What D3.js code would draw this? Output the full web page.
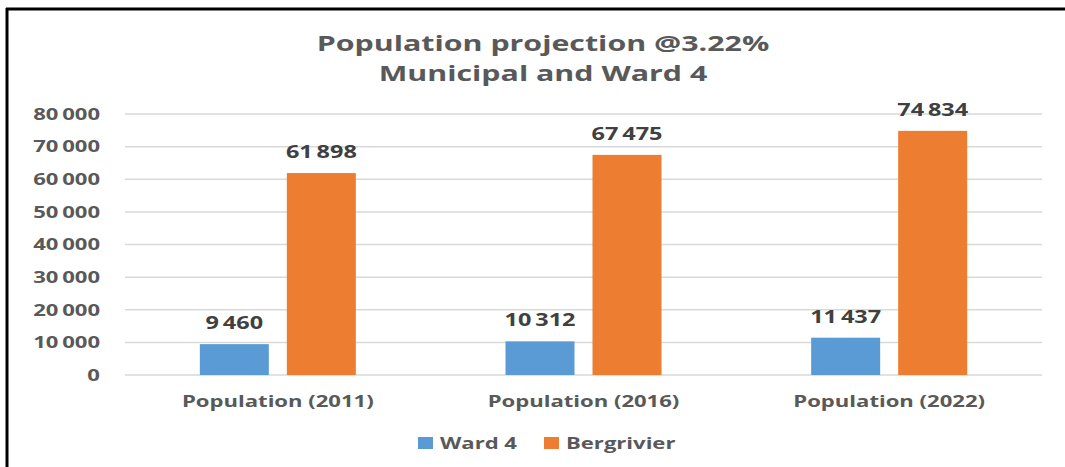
<!DOCTYPE html>
<html>
<head>
<meta charset="utf-8">
<script src="https://cdn.jsdelivr.net/npm/d3@7"></script>
<style>
  body { margin: 0; background: #fff; }
  svg { display: block; font-family: "Open Sans", sans-serif; font-weight: bold; }
</style>
</head>
<body>
<script>
var categories = ["Population (2011)", "Population (2016)", "Population (2022)"];
var seriesNames = ["Ward 4", "Bergrivier"];
var ward4 = [9460, 10312, 11437];
var bergrivier = [61898, 67475, 74834];
var yTicks = [0, 10000, 20000, 30000, 40000, 50000, 60000, 70000, 80000];
var colors = ["#5b9bd5", "#ed7d31"];

// text in the picture is stretched sideways
var SX = 1.38;
var place = function(x, y) {
  return "translate(" + x + "," + y + ") scale(" + SX + ",1)";
}

var main = function() {
  var width = 1065, height = 467;
  var margin = {top: 114, bottom: 92, left: 125, right: 23};

  var svg = d3.select("body").append("svg")
    .attr("width", width)
    .attr("height", height);

  // frame (only top + left show)
  svg.append("line").attr("x1", 6).attr("x2", width).attr("y1", 9).attr("y2", 9)
    .attr("stroke", "#000").attr("stroke-width", 3);
  svg.append("line").attr("x1", 7).attr("x2", 7).attr("y1", 8).attr("y2", height)
    .attr("stroke", "#000").attr("stroke-width", 3);

  var loc = d3.formatLocale({decimal: ".", thousands: "\u2009", grouping: [3], currency: ["", ""]});
  var fmt = loc.format(",d");

  var x = d3.scaleBand().domain(categories)
    .range([margin.left, width - margin.right]);
  var x1 = d3.scaleBand().domain(seriesNames)
    .range([0, x.bandwidth()]).paddingInner(0.207).paddingOuter(0.86);
  var y = d3.scaleLinear().domain([0, 80000])
    .range([height - margin.bottom, margin.top]);

  // gridlines
  svg.append("g").selectAll("line").data(yTicks).enter().append("line")
    .attr("x1", margin.left).attr("x2", width - margin.right)
    .attr("y1", d => y(d)).attr("y2", d => y(d))
    .attr("stroke", "#d9d9d9").attr("stroke-width", 1.5);

  // y tick labels
  svg.append("g").selectAll("text").data(yTicks).enter().append("text")
    .attr("transform", d => place(100, y(d))).attr("dy", "0.36em")
    .attr("text-anchor", "end").attr("fill", "#595959").attr("font-size", 16)
    .text(d => fmt(d));

  var rows = [];
  categories.forEach(function(c, i) {
    rows.push({cat: c, s: seriesNames[0], v: ward4[i], k: 0});
    rows.push({cat: c, s: seriesNames[1], v: bergrivier[i], k: 1});
  });

  svg.append("g").selectAll("rect").data(rows).enter().append("rect")
    .attr("x", d => x(d.cat) + x1(d.s))
    .attr("width", x1.bandwidth())
    .attr("y", d => y(d.v))
    .attr("height", d => y(0) - y(d.v))
    .attr("fill", d => colors[d.k]);

  svg.append("g").selectAll("text").data(rows).enter().append("text")
    .attr("transform", d => place(x(d.cat) + x1(d.s) + x1.bandwidth() / 2, y(d.v) - 15))
    .attr("text-anchor", "middle").attr("fill", "#404040").attr("font-size", 17)
    .text(d => fmt(d.v));

  // category labels
  svg.append("g").selectAll("text").data(categories).enter().append("text")
    .attr("transform", d => place(x(d) + x.bandwidth() / 2, 407))
    .attr("text-anchor", "middle").attr("fill", "#595959").attr("font-size", 16)
    .text(d => d);

  // title
  svg.append("text").attr("transform", place(543, 51)).attr("text-anchor", "middle")
    .attr("fill", "#595959").attr("font-size", 22).text("Population projection @3.22%");
  svg.append("text").attr("transform", place(543, 81)).attr("text-anchor", "middle")
    .attr("fill", "#595959").attr("font-size", 22).text("Municipal and Ward 4");

  // legend
  var legX = [418, 544];
  var leg = svg.append("g").selectAll("g").data(seriesNames).enter().append("g")
    .attr("transform", (d, i) => "translate(" + legX[i] + ",437)");
  leg.append("rect").attr("width", 15).attr("height", 12).attr("fill", (d, i) => colors[i]);
  leg.append("text").attr("transform", place(22, 12)).attr("fill", "#595959").attr("font-size", 16)
    .text(d => d);
}

main();
</script>
</body>
</html>
